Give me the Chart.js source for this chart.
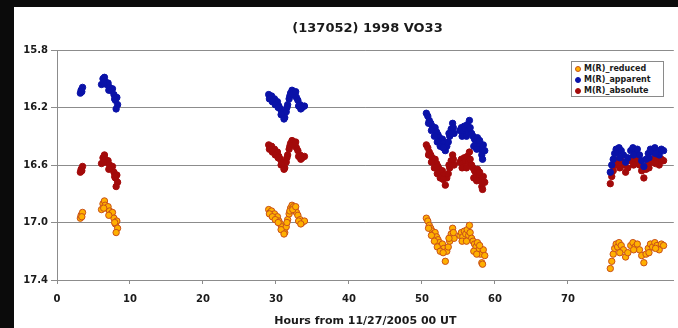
<!DOCTYPE html>
<html>
<head>
<meta charset="utf-8">
<script src="https://cdn.jsdelivr.net/npm/chart.js@4/dist/chart.umd.min.js"></script>
<style>
  html, body { margin: 0; padding: 0; background: #0b0b0b; }
  #wrap { position: relative; width: 678px; height: 328px; overflow: hidden; }
  #panel { position: absolute; left: 14px; top: 7px; right: 0; bottom: 0; background: #fff; }
  #chart { position: absolute; left: 0; top: 0; }
  #title { position: absolute; left: 57px; right: 0; top: 20px; text-align: center;
    font: bold 13px "DejaVu Sans", Verdana, sans-serif; color: #1a1a1a; }
  #legend { position: absolute; left: 571px; top: 61px; width: 93px; height: 36px;
    border: 1px solid #8a8a8a; background: #fff; box-sizing: border-box; padding: 1px 0 0 3px;
    font: bold 8px "DejaVu Sans", Verdana, sans-serif; color: #1a1a1a; }
  #legend div { height: 11px; line-height: 11px; white-space: nowrap; }
  #legend span { display: inline-block; width: 6px; height: 6px; border-radius: 50%;
    box-sizing: border-box; margin-right: 3px; vertical-align: -0.5px; }
</style>
</head>
<body>
<div id="wrap">
  <div id="panel"></div>
  <canvas id="chart" width="678" height="328"></canvas>
  <div id="title">(137052) 1998 VO33</div>
  <div id="legend"></div>
</div>
<script>
// observation times, hours from 11/27/2005 00 UT
const hours = [
  3.2, 3.3, 3.5, 6.1, 6.3, 6.5, 6.6, 6.8, 7.0, 7.2, 7.4, 7.6, 7.8, 8.0, 8.2, 8.3, 8.1,
  29.0, 29.2, 29.4, 29.6, 29.8, 30.0, 30.2, 30.4, 30.6, 30.8, 31.0, 31.2, 31.4, 31.6, 31.8, 32.0,
  32.2, 32.4, 32.6, 32.8, 33.0, 33.3, 33.6, 33.9,
  50.6, 50.8, 51.0, 51.2, 51.4, 51.6, 51.8, 52.0, 52.2, 52.4, 52.6, 52.8, 53.0, 53.2, 53.4, 53.6,
  53.8, 54.0, 54.2, 54.4, 55.2, 55.4, 55.6, 55.8, 56.0, 56.2, 56.4, 56.6, 56.8, 57.0, 57.2, 57.4,
  57.6, 57.8, 58.0, 58.2, 58.4, 58.6,
  75.8, 76.0, 76.2, 76.4, 76.6, 76.8, 77.0, 77.3, 77.6, 77.9, 78.2, 78.6, 78.9, 79.2, 79.5, 79.8,
  80.1, 80.4, 80.7, 81.0, 81.3, 81.6, 81.9, 82.2, 82.5, 82.8, 83.1,
  // second pass of points inside the blobs
  3.4, 6.4, 7.1, 7.9,
  29.1, 29.5, 29.9, 30.3, 30.7, 31.1, 31.5, 31.9, 32.3, 32.7, 33.1, 33.4,
  50.9, 51.3, 51.7, 52.1, 52.5, 52.9, 53.7, 54.3, 55.5, 56.1, 56.5, 57.1, 57.5, 57.9, 58.3,
  77.1, 79.0, 81.1, 82.0
];

const magReduced = [
  16.97, 16.95, 16.93, 16.91, 16.87, 16.85, 16.88, 16.90, 16.89, 16.92, 16.94, 16.93, 16.97, 17.01, 16.99, 17.04, 17.07,
  16.91, 16.93, 16.92, 16.95, 16.94, 16.97, 16.96, 16.99, 17.01, 17.03, 17.05, 17.07, 17.03, 16.98, 16.94, 16.90,
  16.88, 16.89, 16.91, 16.93, 16.95, 16.98, 17.00, 16.99,
  16.97, 16.99, 17.02, 17.04, 17.06, 17.08, 17.07, 17.10, 17.12, 17.14, 17.16, 17.15, 17.18, 17.27, 17.20, 17.17,
  17.13, 17.08, 17.04, 17.11, 17.09, 17.07, 17.10, 17.06, 17.08, 17.05, 17.09, 17.07, 17.11, 17.13, 17.15, 17.17,
  17.14, 17.19, 17.22, 17.28, 17.19, 17.23,
  17.32, 17.27, 17.22, 17.18, 17.15, 17.17, 17.14, 17.16, 17.19, 17.24, 17.21, 17.16, 17.14, 17.17, 17.15, 17.19,
  17.23, 17.28, 17.22, 17.18, 17.15, 17.17, 17.14, 17.16, 17.19, 17.15, 17.16,
  16.96, 16.90, 16.95, 17.00,
  16.94, 16.96, 16.98, 17.00, 17.05, 17.08, 17.00, 16.92, 16.91, 16.89, 16.99, 17.01,
  17.04, 17.09, 17.13, 17.17, 17.20, 17.21, 17.11, 17.07, 17.13, 17.13, 17.02, 17.20, 17.22, 17.16, 17.29,
  17.21, 17.19, 17.21, 17.18
];

const magApparent = [
  16.10, 16.08, 16.06, 16.04, 16.00, 15.99, 16.02, 16.04, 16.03, 16.06, 16.08, 16.07, 16.11, 16.15, 16.13, 16.18, 16.21,
  16.11, 16.13, 16.12, 16.15, 16.14, 16.17, 16.16, 16.19, 16.21, 16.23, 16.25, 16.27, 16.23, 16.18, 16.14, 16.10,
  16.08, 16.09, 16.11, 16.13, 16.15, 16.18, 16.20, 16.19,
  16.24, 16.26, 16.29, 16.31, 16.33, 16.35, 16.34, 16.37, 16.39, 16.41, 16.43, 16.42, 16.45, 16.50, 16.47, 16.44,
  16.40, 16.35, 16.31, 16.38, 16.36, 16.34, 16.37, 16.33, 16.35, 16.32, 16.36, 16.34, 16.38, 16.40, 16.42, 16.44,
  16.41, 16.46, 16.49, 16.53, 16.46, 16.50,
  16.65, 16.60, 16.56, 16.52, 16.49, 16.51, 16.48, 16.50, 16.53, 16.58, 16.55, 16.50, 16.48, 16.51, 16.49, 16.53,
  16.57, 16.61, 16.56, 16.52, 16.49, 16.51, 16.48, 16.50, 16.53, 16.49, 16.50,
  16.09, 16.03, 16.08, 16.14,
  16.14, 16.16, 16.18, 16.20, 16.25, 16.28, 16.20, 16.12, 16.11, 16.09, 16.19, 16.21,
  16.31, 16.36, 16.40, 16.44, 16.47, 16.48, 16.38, 16.34, 16.40, 16.40, 16.29, 16.47, 16.49, 16.43, 16.56,
  16.55, 16.53, 16.55, 16.52
];

const magAbsolute = [
  16.65, 16.63, 16.61, 16.59, 16.55, 16.53, 16.56, 16.58, 16.57, 16.60, 16.62, 16.61, 16.65, 16.69, 16.67, 16.72, 16.75,
  16.46, 16.48, 16.47, 16.50, 16.49, 16.52, 16.51, 16.54, 16.56, 16.58, 16.60, 16.62, 16.58, 16.53, 16.49, 16.45,
  16.43, 16.44, 16.46, 16.48, 16.50, 16.53, 16.55, 16.54,
  16.46, 16.48, 16.51, 16.53, 16.55, 16.57, 16.56, 16.59, 16.61, 16.63, 16.65, 16.64, 16.67, 16.74, 16.69, 16.66,
  16.62, 16.57, 16.53, 16.60, 16.58, 16.56, 16.59, 16.55, 16.57, 16.54, 16.58, 16.56, 16.60, 16.62, 16.64, 16.66,
  16.63, 16.68, 16.71, 16.75, 16.68, 16.72,
  16.73, 16.68, 16.64, 16.60, 16.57, 16.58, 16.56, 16.57, 16.60, 16.65, 16.62, 16.57, 16.55, 16.58, 16.56, 16.60,
  16.64, 16.69, 16.63, 16.59, 16.56, 16.58, 16.55, 16.57, 16.60, 16.56, 16.57,
  16.64, 16.58, 16.63, 16.68,
  16.49, 16.51, 16.53, 16.55, 16.60, 16.63, 16.55, 16.47, 16.46, 16.44, 16.54, 16.56,
  16.53, 16.58, 16.62, 16.66, 16.69, 16.70, 16.60, 16.56, 16.62, 16.62, 16.51, 16.69, 16.71, 16.65, 16.77,
  16.62, 16.60, 16.62, 16.59
];

const seriesNames = ['M(R)_reduced', 'M(R)_apparent', 'M(R)_absolute'];
const seriesFill = ['#ffb000', '#0a12a8', '#a30a0a'];
const seriesEdge = ['#c8501a', '#0a12a8', '#a30a0a'];
const xTitle = 'Hours from 11/27/2005 00 UT';

const FONT = '"DejaVu Sans", Verdana, sans-serif';
const GRID = '#8c8c8c';

const toPoints = mags => hours.map((h, i) => ({ x: h, y: mags[i] }));
const allMags = [magReduced, magApparent, magAbsolute];

const datasets = seriesNames.map((name, k) => ({
  label: name,
  data: toPoints(allMags[k]),
  backgroundColor: seriesFill[k],
  borderColor: seriesEdge[k],
  borderWidth: 1,
  pointRadius: 3.2,
  pointHoverRadius: 3.2
}));

// html legend, same look as the excel one
const legend = document.getElementById('legend');
seriesNames.forEach((name, k) => {
  const row = document.createElement('div');
  row.innerHTML = `<span style="background:${seriesFill[k]};border:1px solid ${seriesEdge[k]}"></span>${name}`;
  legend.appendChild(row);
});

new Chart(document.getElementById('chart'), {
  type: 'scatter',
  data: { datasets },
  options: {
    responsive: false,
    animation: false,
    layout: { padding: { top: 50, right: 0, left: 0, bottom: 0 } },
    plugins: { legend: { display: false }, tooltip: { enabled: false } },
    scales: {
      x: {
        type: 'linear',
        min: 0,
        max: 84.5,
        afterBuildTicks: s => { s.ticks = s.ticks.filter(t => t.value % 10 === 0); },
        afterFit: s => { s.height = 48; },
        grid: { drawOnChartArea: false, color: GRID, tickLength: 4 },
        border: { color: GRID },
        ticks: { stepSize: 10, color: '#1a1a1a', font: { family: FONT, size: 10, weight: 'bold' }, padding: 9, maxRotation: 0 },
        title: { display: true, text: xTitle, color: '#1a1a1a', font: { family: FONT, size: 11, weight: 'bold' }, padding: { top: 4, bottom: 0 } }
      },
      y: {
        reverse: true,
        min: 15.8,
        max: 17.4,
        afterFit: s => { s.width = 57; },
        grid: { color: GRID, tickLength: 6 },
        border: { color: GRID },
        ticks: { stepSize: 0.4, color: '#1a1a1a', font: { family: FONT, size: 10, weight: 'bold' }, padding: 3,
          callback: v => Number(v).toFixed(1) }
      }
    }
  }
});
</script>
</body>
</html>
